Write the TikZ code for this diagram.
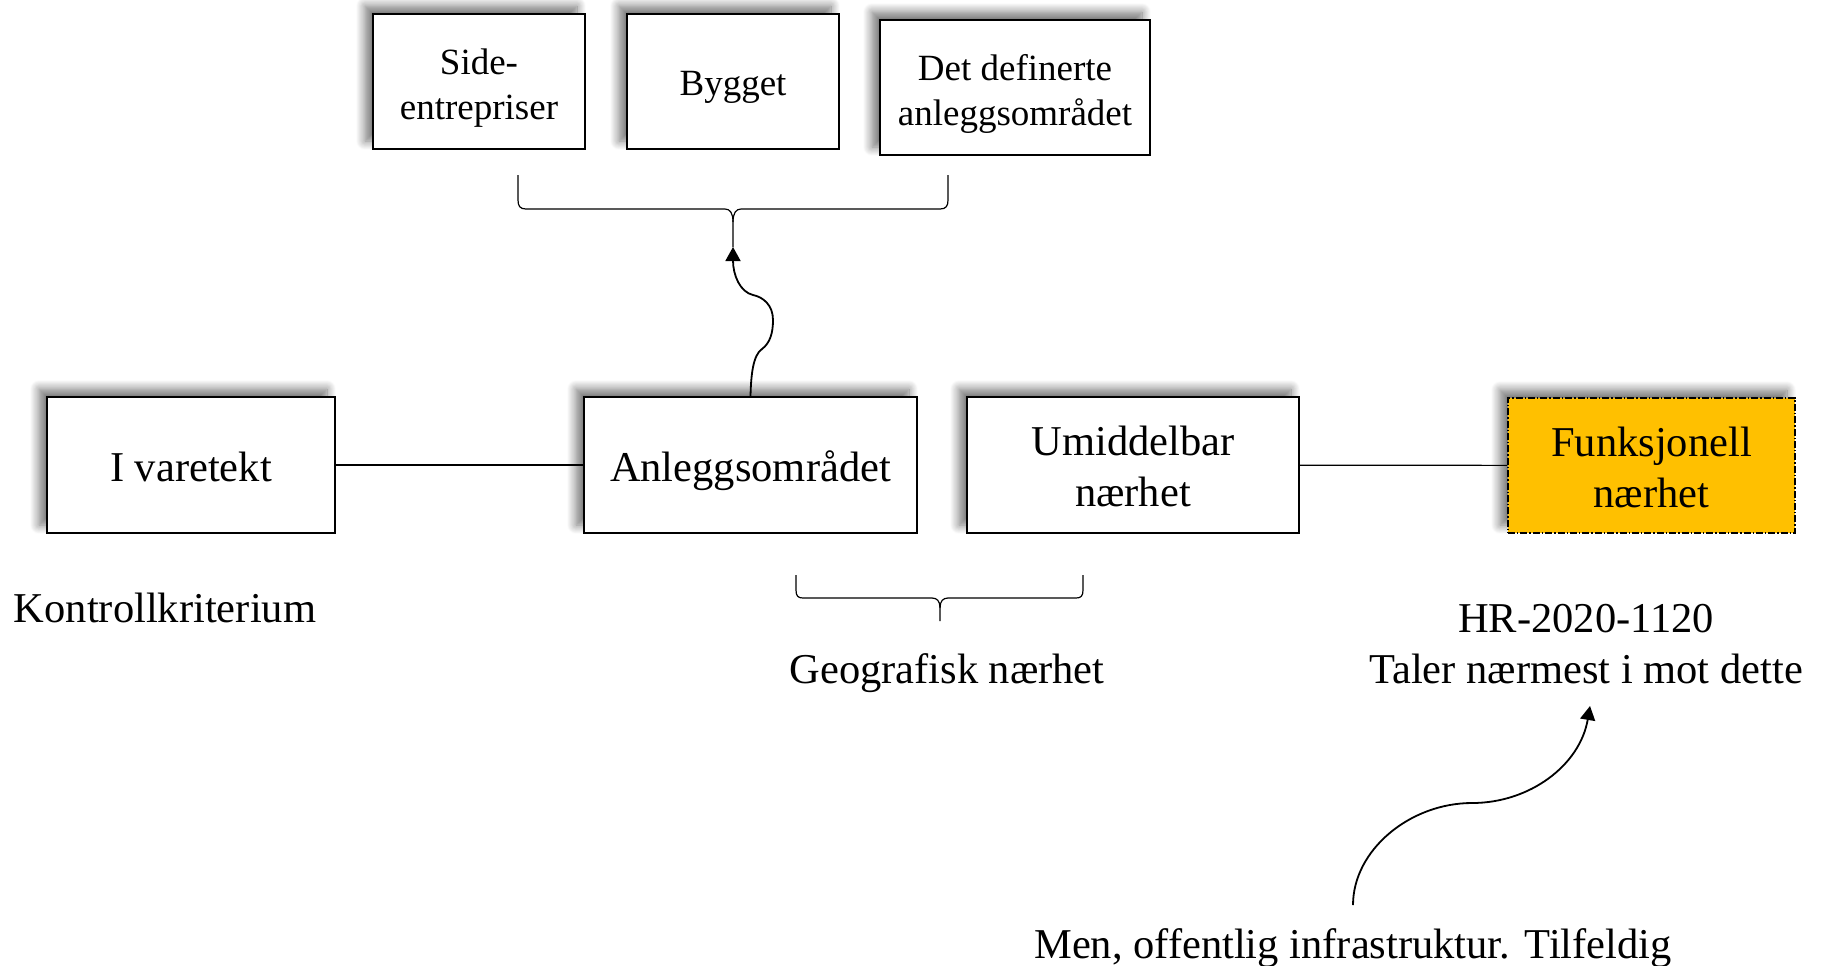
\documentclass[tikz,border=0pt]{standalone}
\usepackage{fontspec}
\setmainfont{Liberation Serif}
\usetikzlibrary{arrows.meta,shadows.blur}
\definecolor{wordgold}{HTML}{FFC000}
\newcommand\bigf{\fontsize{21.25pt}{25.5pt}\selectfont}
\newcommand\smallf{\fontsize{18.5pt}{22.5pt}\selectfont}
\newcommand\boxtxt[2]{\raisebox{-#1}[\height][\depth]{\begin{tabular}{@{}c@{}}#2\end{tabular}}}
\begin{document}
\begin{tikzpicture}[x=0.5pt,y=-0.5pt,
  box/.style={draw=black, line width=0.8pt, fill=white, inner sep=0pt, font=\bigf,
    minimum height=68pt,
    blur shadow={shadow xshift=-4pt, shadow yshift=4pt, shadow blur radius=4.5pt, shadow blur steps=12, shadow opacity=55}},
  topbox/.style={box, font=\smallf, minimum height=67.5pt},
  conn/.style={draw=black, line width=0.6pt},
  brace/.style={draw=black, line width=0.6pt},
  curvearrow/.style={draw=black, line width=0.9pt, -{Triangle[width=7.5pt,length=7pt]}},
  label/.style={font=\bigf, anchor=base, inner sep=0pt}]
\useasboundingbox (0,0) rectangle (1824,965);

% main row
\node[box, minimum width=144pt] (var) at (191,465) {\boxtxt{3pt}{I varetekt}};
\node[box, minimum width=166.5pt] (anl) at (750.5,465) {\boxtxt{3pt}{Anleggsområdet}};
\node[box, minimum width=166pt] (umi) at (1133,465) {\boxtxt{3pt}{Umiddelbar\\nærhet}};
\node[box, fill=wordgold, dash pattern=on 3.5pt off 1pt on 0.7pt off 1pt, minimum width=143.5pt, minimum height=67.5pt] (fun) at (1651.5,465.5) {\boxtxt{3pt}{Funksjonell\\nærhet}};

% top row
\node[topbox, minimum width=106pt] (side) at (479,81.5) {\boxtxt{3pt}{Side-\\entrepriser}};
\node[topbox, minimum width=106pt] (byg) at (733,81.5) {\boxtxt{2.7pt}{Bygget}};
\node[topbox, minimum width=135pt] (def) at (1015,87.5) {\boxtxt{3pt}{Det definerte\\anleggsområdet}};

% connectors
\draw[conn] (var) -- (anl);
\draw[conn] (umi) -- (fun);

% labels
\node[label] (kont) at (165,622) {Kontrollkriterium};
\node[label] (geo) at (947,683) {Geografisk nærhet};
\node[label] (hr) at (1586,632) {HR-2020-1120};
\node[label] (tal) at (1586,683) {Taler nærmest i mot dette};
\node[label] (men) at (1353,958) {Men, offentlig infrastruktur. Tilfeldig};

% top brace
\coordinate (btip) at (733,247);
\draw[brace] (518,175) -- (518,200) .. controls (518,206) and (520,209) .. (526,209) -- (725,209)
  .. controls (730,209) and (733,213) .. (733,222) -- (btip);
\draw[brace] (948,175) -- (948,200) .. controls (948,206) and (946,209) .. (940,209) -- (741,209)
  .. controls (736,209) and (733,213) .. (733,222);

% bottom brace
\draw[brace] (796,575) -- (796,590) .. controls (796,596) and (798,598) .. (803,598) -- (932,598)
  .. controls (937,598) and (940,601) .. (940,608) -- (940,621);
\draw[brace] (1083,575) -- (1083,590) .. controls (1083,596) and (1081,598) .. (1076,598) -- (948,598)
  .. controls (943,598) and (940,601) .. (940,608);

% wavy arrow up to the brace
\draw[curvearrow] (anl.north) .. controls (751,375) and (753,355) .. (762,349)
  .. controls (770,343) and (773,333) .. (773,320)
  .. controls (773,305) and (763,297) .. (753,295)
  .. controls (740,292) and (733,275) .. (btip);

% bottom arrow
\coordinate (mstart) at (1353,905);
\coordinate (ttip) at (1590,706);
\draw[curvearrow] (mstart) .. controls (1353,850) and (1410,803) .. (1472,803)
  .. controls (1530,803) and (1580,765) .. (ttip);
\end{tikzpicture}
\end{document}
